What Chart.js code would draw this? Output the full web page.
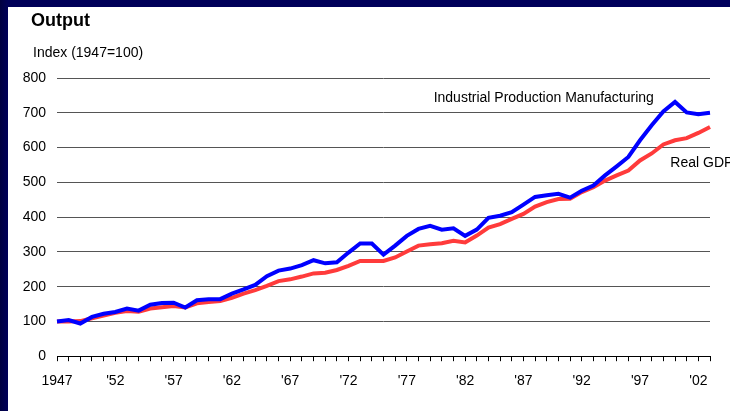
<!DOCTYPE html>
<html>
<head>
<meta charset="utf-8">
<script src="https://cdn.jsdelivr.net/npm/chart.js@4/dist/chart.umd.min.js"></script>
<style>
  html, body { margin: 0; padding: 0; width: 730px; height: 411px; overflow: hidden; }
  body { background: linear-gradient(90deg, #000040 0px, #000058 8px, #00005c 100%); }
  #panel { position: absolute; left: 8px; top: 7px; width: 722px; height: 404px; background: #fff; }
</style>
</head>
<body>
<div id="panel"><canvas id="chart" width="722" height="404"></canvas></div>
<script>
// years on the x axis
const years = [
  1947, 1948, 1949, 1950, 1951, 1952, 1953, 1954, 1955, 1956,
  1957, 1958, 1959, 1960, 1961, 1962, 1963, 1964, 1965, 1966,
  1967, 1968, 1969, 1970, 1971, 1972, 1973, 1974, 1975, 1976,
  1977, 1978, 1979, 1980, 1981, 1982, 1983, 1984, 1985, 1986,
  1987, 1988, 1989, 1990, 1991, 1992, 1993, 1994, 1995, 1996,
  1997, 1998, 1999, 2000, 2001, 2002, 2003
];

// index values, 1947 = 100
const industrialProduction = [
  100, 104, 94, 113, 122, 127, 137, 131, 148, 153,
  154, 140, 161, 164, 164, 180, 192, 205, 230, 246,
  252, 262, 276, 267, 270, 298, 324, 324, 292, 318,
  346, 366, 375, 364, 368, 346, 364, 398, 404, 414,
  436, 458, 463, 467, 456, 476, 491, 520, 546, 573,
  621, 664, 704, 731, 701, 696, 700
];

const realGDP = [
  100, 100, 101, 109, 117, 125, 130, 128, 137, 141,
  144, 140, 152, 156, 159, 168, 180, 190, 202, 216,
  221, 229, 238, 240, 248, 260, 274, 274, 274, 284,
  301, 318, 322, 325, 332, 327, 347, 370, 380, 395,
  409, 430, 443, 452, 453, 472, 486, 505, 520, 534,
  563, 583, 609, 621, 627, 642, 659
];

// labels shown under the x axis
const xTickLabels = {
  1947: '1947', 1952: "'52", 1957: "'57", 1962: "'62", 1967: "'67", 1972: "'72",
  1977: "'77", 1982: "'82", 1987: "'87", 1992: "'92", 1997: "'97", 2002: "'02"
};

const FONT = "'Liberation Sans', Arial, sans-serif";

// heading and unit line, top left of the panel
const headings = {
  id: 'headings',
  afterDraw(chart) {
    const ctx = chart.ctx;
    ctx.save();
    ctx.fillStyle = '#000';
    ctx.textAlign = 'left';
    ctx.textBaseline = 'middle';
    ctx.font = 'bold 18px ' + FONT;
    ctx.fillText('Output', 23, 14);
    ctx.font = '14px ' + FONT;
    ctx.fillText('Index (1947=100)', 25, 46);
    ctx.restore();
  }
};

// the two text labels inside the plot
const lineLabels = {
  id: 'lineLabels',
  afterDatasetsDraw(chart) {
    const ctx = chart.ctx;
    const x = chart.scales.x, y = chart.scales.y;
    ctx.save();
    ctx.font = '14px ' + FONT;
    ctx.fillStyle = '#000';
    ctx.textBaseline = 'middle';
    ctx.textAlign = 'left';
    ctx.fillText('Industrial Production Manufacturing', x.getPixelForValue(32.3), y.getPixelForValue(742));
    ctx.fillText('Real GDP', x.getPixelForValue(52.6), y.getPixelForValue(554));
    ctx.restore();
  }
};

new Chart(document.getElementById('chart'), {
  type: 'line',
  data: {
    labels: years,
    datasets: [
      {
        label: 'Industrial Production Manufacturing',
        data: industrialProduction,
        borderColor: '#0000ff',
        borderWidth: 4,
        pointRadius: 0,
        tension: 0,
        order: 0
      },
      {
        label: 'Real GDP',
        data: realGDP,
        borderColor: '#ff3b3b',
        borderWidth: 4,
        pointRadius: 0,
        tension: 0,
        order: 1
      }
    ]
  },
  options: {
    responsive: false,
    animation: false,
    layout: { padding: { left: 10, right: 20, top: 71, bottom: 9 } },
    plugins: {
      legend: { display: false },
      tooltip: { enabled: false },
      title: { display: false }
    },
    scales: {
      x: {
        type: 'category',
        offset: false,
        grid: { display: true, drawOnChartArea: false, drawTicks: true, tickLength: 5, color: '#000', offset: false },
        border: { display: true, color: '#000', width: 1 },
        ticks: {
          autoSkip: false,
          maxRotation: 0,
          padding: 12,
          color: '#000',
          font: { family: FONT, size: 14 },
          callback: function (value) {
            const yr = this.getLabelForValue(value);
            return xTickLabels[yr] || '';
          }
        }
      },
      y: {
        min: 0,
        max: 800,
        grid: { color: '#555', lineWidth: 1, drawTicks: false },
        border: { display: false },
        afterFit: function (scale) { scale.width = 39; },
        ticks: {
          stepSize: 100,
          padding: 11,
          color: '#000',
          font: { family: FONT, size: 14 }
        }
      }
    }
  },
  plugins: [headings, lineLabels]
});
</script>
</body>
</html>
